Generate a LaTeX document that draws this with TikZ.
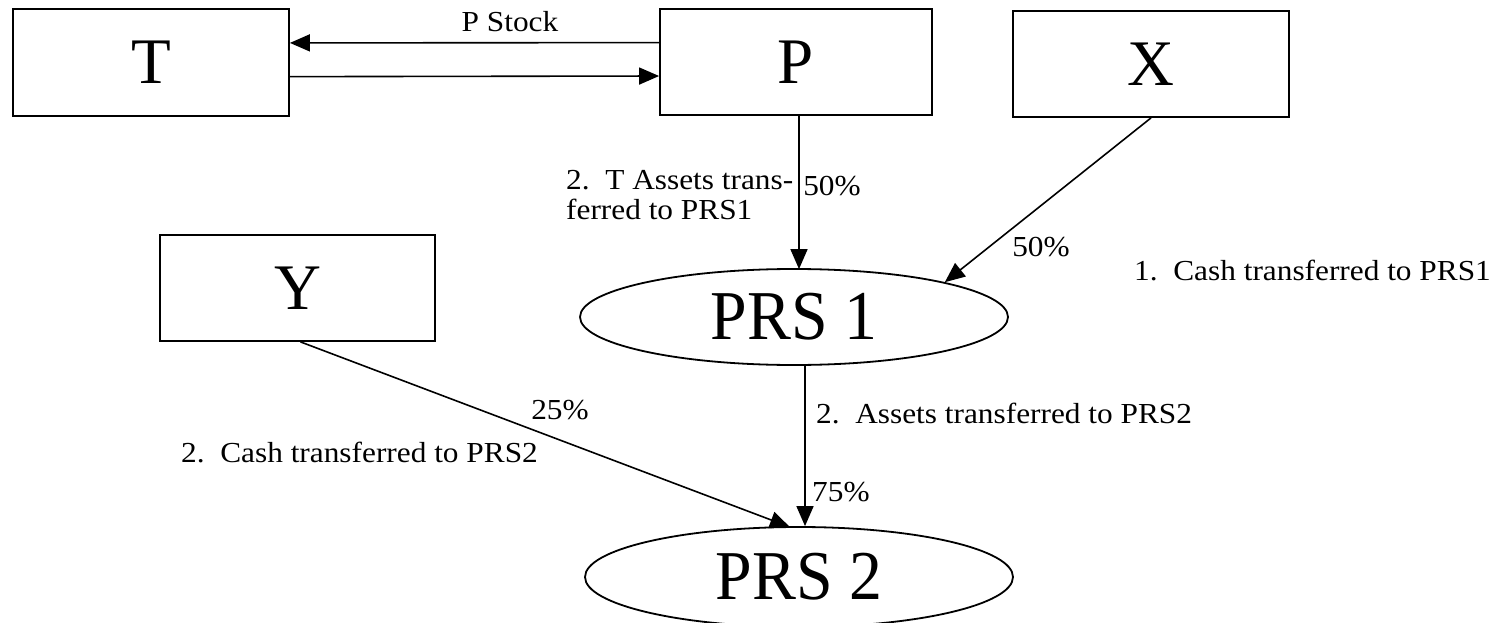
\documentclass[tikz,border=0pt]{standalone}
\usepackage{fontspec}
\setmainfont{Liberation Serif}
\newfontfamily\lblfont[FakeStretch=1.08]{Liberation Serif}
\newfontfamily\prsfont[FakeStretch=0.94]{Liberation Serif}
\usetikzlibrary{shapes.geometric,arrows.meta,calc}
\begin{document}
\begin{tikzpicture}[x=1pt,y=-1pt,
  box/.style={draw,line width=1.8pt,rectangle,inner sep=0pt,font=\fontsize{65}{70}\selectfont},
  oval/.style={draw,line width=1.8pt,ellipse,inner sep=0pt,font=\prsfont\fontsize{70}{75}\selectfont},
  arr/.style={line width=1.6pt,-{Triangle[length=20pt,width=17pt]}},
  lbl/.style={inner sep=0pt,font=\lblfont\fontsize{29}{30}\selectfont}]
\useasboundingbox (0,0) rectangle (1504,623);
\node[box,minimum width=276pt,minimum height=107pt] (T) at (151,62.5) {T};
\node[box,minimum width=272pt,minimum height=106pt] (P) at (796,62) {P};
\node[box,minimum width=276pt,minimum height=106pt] (X) at (1151,64) {X};
\node[box,minimum width=275pt,minimum height=106pt] (Y) at (297.5,288) {Y};
\node[oval,minimum width=428pt,minimum height=96pt] (PRS1) at (794,317) {PRS 1};
\node[oval,minimum width=428pt,minimum height=100pt] (PRS2) at (799,577) {PRS 2};
% P stock arrows
\draw[arr] ($(P.north west)!0.32!(P.south west)$) -- ($(T.north east)!0.32!(T.south east)$);
\draw[arr] ($(T.north east)!0.63!(T.south east)$) -- ($(P.north west)!0.63!(P.south west)$);
\node[lbl] (ps) at (510,22) {P Stock};
% P to PRS1
\draw[arr] ($(P.south)+(3,0)$) -- ($(P.south |- PRS1.north)+(3,1)$);
\node[lbl,anchor=west,align=left] (l1) at (566,195) {2.\ \ T Assets trans-\\ferred to PRS1};
\node[lbl] (p50a) at (832,186) {50\%};
% X to PRS1
\draw[arr] (X.south) -- (PRS1.13);
\node[lbl] (p50b) at (1041,247) {50\%};
\node[lbl,anchor=west] (l2) at (1134,270) {1.\ \ Cash transferred to PRS1};
% PRS1 to PRS2
\draw[arr] ($(PRS1.south)+(11,0)$) -- ($(PRS2.north)+(6,0)$);
\node[lbl,anchor=west] (l3) at (816,413) {2.\ \ Assets transferred to PRS2};
\node[lbl,anchor=west] (p75) at (812,492) {75\%};
% Y to PRS2
\draw[arr] ($(Y.south)+(3,0)$) -- ($(PRS2.north)+(-9,1)$);
\node[lbl] (p25) at (560,410) {25\%};
\node[lbl,anchor=west] (l4) at (181,452) {2.\ \ Cash transferred to PRS2};
\end{tikzpicture}
\end{document}
